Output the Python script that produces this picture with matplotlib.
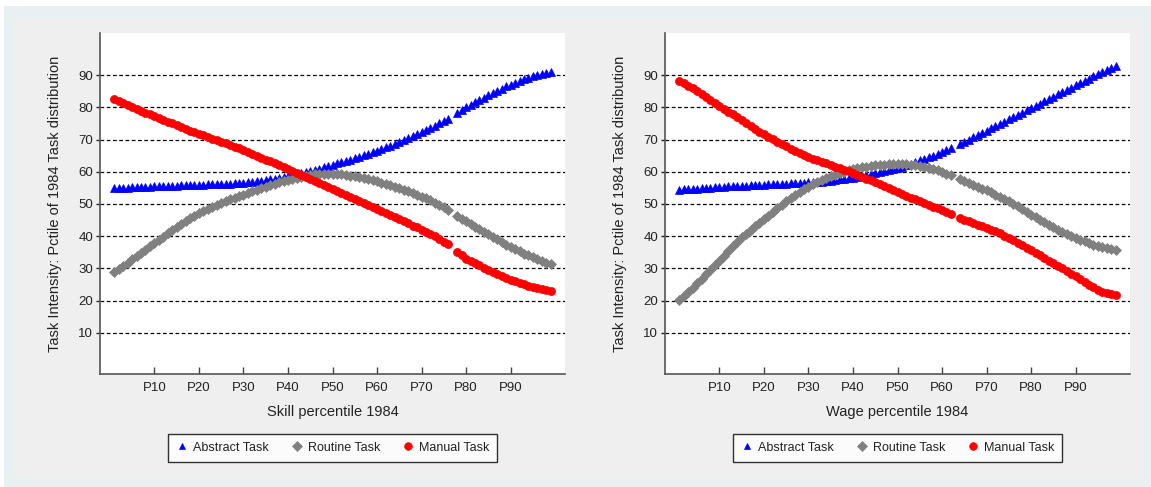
import numpy as np
import matplotlib.pyplot as plt

plt.rcParams['font.family'] = ['Liberation Sans', 'DejaVu Sans']

# percentile positions 1..99
pctile = list(range(1, 100))
nan = np.nan

# skill ranking (left panel), percentile 77 has no observation
skill_abstract = [
    55.0, 55.0, 55.1, 55.1, 55.2, 55.2, 55.3, 55.3, 55.4, 55.5,
    55.5, 55.6, 55.6, 55.7, 55.7, 55.8, 55.8, 55.9, 55.9, 56.0,
    56.0, 56.1, 56.1, 56.2, 56.2, 56.3, 56.3, 56.4, 56.5, 56.6,
    56.7, 56.9, 57.0, 57.2, 57.4, 57.7, 57.9, 58.2, 58.4, 58.7,
    59.0, 59.3, 59.6, 59.9, 60.2, 60.6, 61.0, 61.4, 61.8, 62.2,
    62.6, 63.0, 63.4, 63.8, 64.2, 64.7, 65.1, 65.6, 66.1, 66.6,
    67.1, 67.6, 68.1, 68.6, 69.2, 69.8, 70.4, 71.0, 71.6, 72.2,
    72.9, 73.6, 74.3, 75.0, 75.7, 76.4, nan, 78.4, 79.2, 80.0,
    80.8, 81.6, 82.3, 83.0, 83.7, 84.4, 85.1, 85.8, 86.5, 87.1,
    87.7, 88.2, 88.7, 89.2, 89.6, 90.0, 90.4, 90.7, 91.0]
skill_routine = [
    28.8, 29.8, 30.8, 31.8, 32.8, 33.8, 34.8, 35.8, 36.8, 37.8,
    38.8, 39.8, 40.9, 41.9, 42.9, 43.8, 44.7, 45.5, 46.3, 47.1,
    47.8, 48.5, 49.1, 49.7, 50.3, 50.9, 51.4, 51.9, 52.4, 52.9,
    53.4, 53.9, 54.4, 54.9, 55.4, 55.8, 56.3, 56.7, 57.1, 57.5,
    57.9, 58.2, 58.5, 58.8, 59.0, 59.2, 59.3, 59.4, 59.4, 59.4,
    59.3, 59.2, 59.0, 58.8, 58.6, 58.3, 58.0, 57.7, 57.4, 57.0,
    56.6, 56.2, 55.8, 55.4, 54.9, 54.4, 53.9, 53.4, 52.9, 52.3,
    51.7, 51.1, 50.4, 49.7, 49.0, 48.2, nan, 46.2, 45.4, 44.6,
    43.8, 43.0, 42.2, 41.4, 40.6, 39.8, 39.0, 38.2, 37.4, 36.7,
    36.0, 35.3, 34.6, 34.0, 33.4, 32.8, 32.3, 31.8, 31.3]
skill_manual = [
    82.6, 82.0, 81.4, 80.8, 80.2, 79.6, 79.0, 78.4, 77.8, 77.2,
    76.7, 76.1, 75.6, 75.0, 74.5, 73.9, 73.4, 72.8, 72.3, 71.8,
    71.3, 70.8, 70.3, 69.8, 69.3, 68.8, 68.3, 67.8, 67.3, 66.8,
    66.2, 65.6, 65.0, 64.4, 63.8, 63.2, 62.6, 62.0, 61.4, 60.8,
    60.2, 59.6, 58.9, 58.3, 57.7, 57.1, 56.5, 55.9, 55.2, 54.6,
    54.0, 53.4, 52.8, 52.2, 51.6, 51.0, 50.3, 49.7, 49.1, 48.5,
    47.9, 47.3, 46.6, 46.0, 45.3, 44.7, 44.0, 43.3, 42.7, 42.0,
    41.3, 40.6, 39.9, 39.1, 38.3, 37.5, nan, 35.2, 34.0, 33.0,
    32.3, 31.6, 30.9, 30.2, 29.5, 28.9, 28.3, 27.6, 27.0, 26.4,
    26.0, 25.5, 25.1, 24.6, 24.2, 23.9, 23.6, 23.3, 23.0]

# wage ranking (right panel), percentile 63 has no observation
wage_abstract = [
    54.4, 54.5, 54.6, 54.7, 54.8, 54.9, 55.0, 55.1, 55.2, 55.3,
    55.4, 55.5, 55.5, 55.6, 55.7, 55.7, 55.8, 55.9, 55.9, 56.0,
    56.1, 56.1, 56.2, 56.3, 56.3, 56.4, 56.5, 56.5, 56.6, 56.7,
    56.8, 56.8, 56.9, 57.0, 57.2, 57.4, 57.6, 57.8, 58.0, 58.2,
    58.4, 58.7, 58.9, 59.2, 59.5, 59.8, 60.1, 60.4, 60.8, 61.2,
    61.6, 62.0, 62.5, 63.0, 63.5, 64.0, 64.5, 65.0, 65.6, 66.2,
    66.8, 67.4, nan, 68.7, 69.3, 70.0, 70.7, 71.4, 72.1, 72.8,
    73.5, 74.2, 74.9, 75.6, 76.3, 77.0, 77.7, 78.4, 79.1, 79.8,
    80.5, 81.2, 81.9, 82.6, 83.3, 84.0, 84.7, 85.4, 86.1, 86.8,
    87.5, 88.2, 88.9, 89.6, 90.3, 91.0, 91.7, 92.3, 92.9]
wage_routine = [
    20.2, 21.4, 22.7, 24.0, 25.4, 26.8, 28.2, 29.6, 31.0, 32.4,
    33.9, 35.4, 36.9, 38.3, 39.6, 40.8, 42.0, 43.1, 44.2, 45.3,
    46.4, 47.5, 48.6, 49.7, 50.8, 51.8, 52.8, 53.7, 54.6, 55.4,
    56.1, 56.8, 57.4, 58.0, 58.6, 59.1, 59.6, 60.0, 60.4, 60.8,
    61.1, 61.4, 61.6, 61.8, 62.0, 62.1, 62.2, 62.3, 62.4, 62.4,
    62.4, 62.3, 62.2, 62.0, 61.8, 61.5, 61.2, 60.8, 60.4, 59.9,
    59.4, 58.9, nan, 57.7, 57.2, 56.6, 56.0, 55.4, 54.8, 54.2,
    53.6, 52.9, 52.3, 51.6, 50.9, 50.1, 49.3, 48.5, 47.6, 46.7,
    45.9, 45.1, 44.3, 43.5, 42.7, 42.0, 41.3, 40.6, 40.0, 39.4,
    38.9, 38.4, 37.9, 37.4, 37.0, 36.6, 36.3, 36.0, 35.8]
wage_manual = [
    88.3, 87.5, 86.7, 85.9, 85.0, 84.1, 83.2, 82.3, 81.4, 80.5,
    79.6, 78.7, 77.8, 76.9, 76.0, 75.1, 74.2, 73.3, 72.5, 71.7,
    70.9, 70.1, 69.3, 68.6, 67.9, 67.2, 66.5, 65.9, 65.3, 64.7,
    64.1, 63.6, 63.1, 62.6, 62.1, 61.6, 61.1, 60.6, 60.1, 59.6,
    59.1, 58.5, 57.9, 57.3, 56.7, 56.1, 55.5, 55.0, 54.4, 53.8,
    53.2, 52.6, 52.0, 51.5, 50.9, 50.3, 49.8, 49.2, 48.6, 48.0,
    47.5, 46.9, nan, 45.6, 45.1, 44.6, 44.1, 43.6, 43.1, 42.6,
    42.0, 41.5, 40.9, 40.2, 39.5, 38.8, 38.0, 37.2, 36.4, 35.6,
    34.8, 34.0, 33.2, 32.4, 31.6, 30.8, 30.0, 29.2, 28.4, 27.6,
    26.7, 25.8, 24.9, 24.1, 23.4, 22.8, 22.3, 21.9, 21.6]

xticks = [10, 20, 30, 40, 50, 60, 70, 80, 90]
xticklabels = ['P10', 'P20', 'P30', 'P40', 'P50', 'P60', 'P70', 'P80', 'P90']
yticks = [10, 20, 30, 40, 50, 60, 70, 80, 90]
ylabel = 'Task Intensity: Pctile of 1984 Task distribution'
series_names = ['Abstract Task', 'Routine Task', 'Manual Task']

W, H = 1151, 487
fig = plt.figure(figsize=(W / 100, H / 100), dpi=100, facecolor='white')

# outer frame (light blue) and graph region (light grey) behind everything
bg = fig.add_axes([0, 0, 1, 1], zorder=-10)
bg.set_xlim(0, W)
bg.set_ylim(H, 0)
bg.axis('off')
bg.fill_between([4, W], 6, H, color='#e8f0f2', lw=0)
bg.fill_between([14, 1143], 18, 479, color='#efefef', lw=0)

txt = '#222222'


def draw_panel(left, abstract, routine, manual, xlabel):
    ax = fig.add_axes([left / W, 1 - 374 / H, 465 / W, (374 - 33.3) / H])
    ax.set_facecolor('white')
    for y in yticks:
        ax.axhline(y, color='black', lw=0.9, ls=(0, (3, 2)), zorder=1)
    ax.plot(pctile, abstract, ls='none', marker='^', ms=5.2, color='#0000ff',
            mec='#0000ff', mew=0.5, label=series_names[0], zorder=3)
    ax.plot(pctile, routine, ls='none', marker='D', ms=5.0, color='#808080',
            mec='#808080', mew=0.5, label=series_names[1], zorder=4)
    ax.plot(pctile, manual, ls='none', marker='o', ms=5.8, color='#ff0000',
            mec='#ff0000', mew=0.5, label=series_names[2], zorder=5)
    ax.set_xlim(-2.2, 102.2)
    ax.set_ylim(-2.8, 103.0)
    ax.set_xticks(xticks)
    ax.set_xticklabels(xticklabels)
    ax.set_yticks(yticks)
    for s in ['top', 'right']:
        ax.spines[s].set_visible(False)
    for s in ['left', 'bottom']:
        ax.spines[s].set_color('#555555')
        ax.spines[s].set_linewidth(1.2)
    ax.tick_params(axis='x', direction='in', length=5, width=1, color='#444444',
                   labelsize=9.5, labelcolor=txt, pad=6)
    ax.tick_params(axis='y', direction='out', length=3, width=1, color='#222222',
                   labelsize=9.5, labelcolor=txt, pad=2)
    ax.set_xlabel(xlabel, fontsize=10.5, color=txt, labelpad=8)
    ax.set_ylabel(ylabel, fontsize=10.5, color=txt, labelpad=12)
    leg = ax.legend(loc='upper center', bbox_to_anchor=(0.5, -0.157), ncol=3,
                    frameon=True, fancybox=False, fontsize=9, handletextpad=0.4,
                    columnspacing=1.7, borderpad=0.65, handlelength=1.0,
                    markerscale=0.95)
    leg.get_frame().set_edgecolor('black')
    leg.get_frame().set_linewidth(1.0)
    for t in leg.get_texts():
        t.set_color(txt)
    return ax


draw_panel(100, skill_abstract, skill_routine, skill_manual, 'Skill percentile 1984')
draw_panel(665, wage_abstract, wage_routine, wage_manual, 'Wage percentile 1984')

fig.savefig('out.png', dpi=100, facecolor=fig.get_facecolor())
